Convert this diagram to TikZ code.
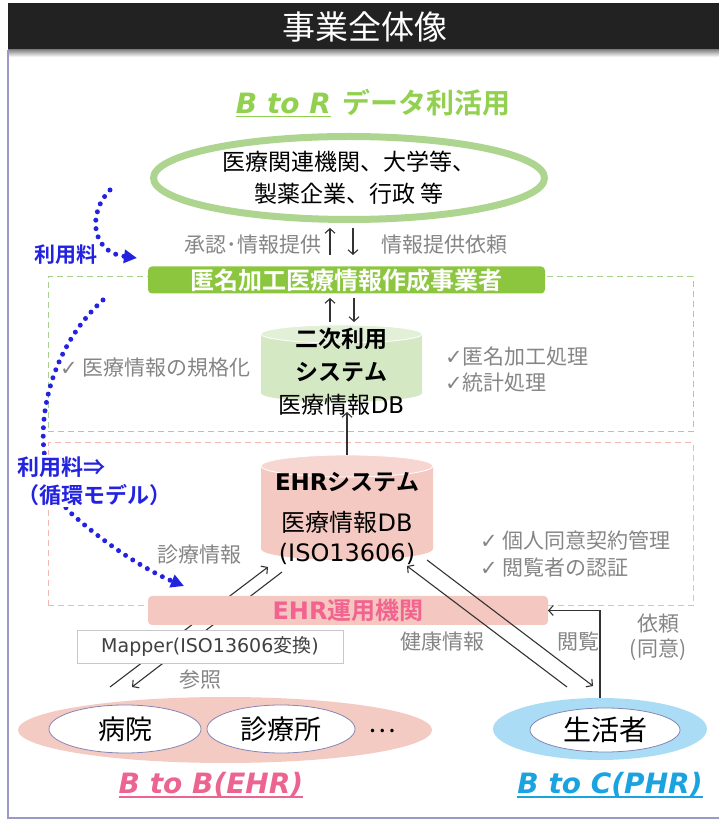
\documentclass[tikz,border=0pt]{standalone}
\usepackage{fontspec}
\setmainfont{Noto Sans CJK JP}[BoldFont={Noto Sans CJK JP Bold}]
\newfontfamily\latf{DejaVu Sans}
\newfontfamily\btofont{DejaVu Sans Bold Oblique}
\usetikzlibrary{arrows.meta,shapes.geometric}
\definecolor{titlebg}{HTML}{222222}
\definecolor{framec}{HTML}{9A9AC4}
\definecolor{gtxt}{HTML}{92D050}
\definecolor{gbar}{HTML}{8CC63F}
\definecolor{gring}{HTML}{AED58F}
\definecolor{gdashc}{HTML}{A9D18E}
\definecolor{gcylb}{HTML}{D5E8C4}
\definecolor{gcylt}{HTML}{E3F0D8}
\definecolor{pcylb}{HTML}{F4C9C2}
\definecolor{pcylt}{HTML}{F7D6D1}
\definecolor{pdashc}{HTML}{F2B8B2}
\definecolor{pbar}{HTML}{F4C7C0}
\definecolor{ptxt}{HTML}{F2638F}
\definecolor{ptxtb}{HTML}{EC6490}
\definecolor{pbig}{HTML}{F3CBC3}
\definecolor{bbig}{HTML}{AADDF5}
\definecolor{btxt}{HTML}{1AA3DE}
\definecolor{dotblue}{HTML}{2222E0}
\definecolor{graytxt}{HTML}{858585}
\definecolor{ellbd}{HTML}{8585B5}
\definecolor{mapbd}{HTML}{C8C8C8}
\definecolor{maptx}{HTML}{404040}
\newcommand\myul[1]{\setbox0\hbox{#1}\rlap{\rule[-4pt]{\wd0}{1.6pt}}\box0}
\newcommand\ckm{{\latf ✓}}
\newcommand\fsz[1]{\fontsize{#1}{#1}\selectfont}
\tikzset{
  every node/.style={inner sep=0pt, outer sep=0pt},
  graylbl/.style={text=graytxt, font=\fsz{21}},
  arr/.style={-{Straight Barb[length=4.5pt,width=10pt]}, line width=1.1pt, draw=black!80},
  dotarr/.style={draw=dotblue, line width=5pt, dash pattern=on 0pt off 8.5pt, line cap=round, -{Triangle[length=13pt,width=13pt]}},
  dashbox/.style={dash pattern=on 6pt off 4pt, line width=1pt},
  whiteell/.style={ellipse, fill=white, draw=ellbd, line width=0.8pt}
}
\begin{document}
\begin{tikzpicture}[x=1pt,y=1pt]
\useasboundingbox (0,0) rectangle (719,822);
% title bar
\fill[titlebg] (8,772) rectangle (719,819);
\shade[top color=black!45, bottom color=white] (8,772) rectangle (719,765);
\node[text=white, font=\fsz{33}] (title) at (365,795) {事業全体像};
\draw[framec, line width=1.5pt] (8,772) -- (8,4) -- (719,4);
% dashed areas
\node[draw=gdashc, dashbox, minimum width=645, minimum height=155] (gbox) at (370.5,467.5) {};
\node[draw=pdashc, dashbox, minimum width=645, minimum height=163] (pbox) at (370.5,297.5) {};
% heading
\node[text=gtxt, font=\fsz{28}] (btr) at (373,719) {{\btofont\myul{B to R}}\hspace{11pt}{\bfseries データ利活用}};
% blue dotted curves
\coordinate (f1s) at (110,632); \coordinate (f1e) at (137,564);
\coordinate (f2s) at (103,522); \coordinate (f2e) at (184,236);
\draw[dotarr] (f1s) .. controls (88,610) and (90,570) .. (f1e);
\draw[dotarr] (f2s) .. controls (35,460) and (25,350) .. (73,307) .. controls (110,274) and (150,250) .. (f2e);
% users
\node[ellipse, draw=gring, line width=7pt, fill=white, minimum width=391, minimum height=83, align=center, font=\fontsize{23}{32}\selectfont] (users) at (349,644) {医療関連機関、大学等、\\製薬企業、行政 等};
\node[graylbl, anchor=east] (apv) at (321,577) {承認･情報提供};
\node[graylbl, anchor=west] (req) at (381,577) {情報提供依頼};
% agent bar
\node[fill=gbar, rounded corners=4pt, minimum width=397, minimum height=27, text=white, font=\bfseries\fsz{24}] (agent) at (346.5,542) {匿名加工医療情報作成事業者};
\coordinate (xa) at (330,0); \coordinate (xb) at (353,0); \coordinate (xc) at (354,0);
\draw[arr, shorten <=11.5pt, shorten >=8.5pt] (agent.north -| xa) -- (users.south -| xa);
\draw[arr, shorten <=8.5pt, shorten >=11.5pt] (users.south -| xb) -- (agent.north -| xb);
% secondary-use cylinder
\fill[gcylb] (261,488) -- (261,429) arc[start angle=180,end angle=360,x radius=80.5,y radius=9] -- (422,488) -- cycle;
\filldraw[fill=gcylt, draw=white, line width=0.8pt] (341.5,488) ellipse [x radius=80.5, y radius=9];
\node[minimum width=161, minimum height=77] (db2) at (341.5,458.5) {};
\node[align=center, font=\fontsize{23}{33}\selectfont] (db2t) at (341.5,450) {\textbf{二次利用}\\\textbf{システム}\\医療情報{\latf DB}};
\draw[arr, shorten <=3pt, shorten >=4.5pt] (db2.north -| xa) -- (agent.south -| xa);
\draw[arr, shorten <=4.5pt, shorten >=3pt] (agent.south -| xc) -- (db2.north -| xc);
\node[graylbl, anchor=west] (std) at (60,454) {\ckm\ 医療情報の規格化};
\node[graylbl, anchor=west, align=left, font=\fontsize{21}{26}\selectfont] (anon) at (445,452) {\ckm 匿名加工処理\\\ckm 統計処理};
% EHR cylinder
\fill[pcylb] (261,356) -- (261,273) arc[start angle=180,end angle=360,x radius=86,y radius=11] -- (433,356) -- cycle;
\filldraw[fill=pcylt, draw=white, line width=0.8pt] (347,356) ellipse [x radius=86, y radius=11];
\node[minimum width=172, minimum height=105] (ehr) at (347,314.5) {};
\node[font=\bfseries\fsz{23}] (ehrt1) at (347,340) {{\latf EHR}システム};
\node[align=center, font=\fontsize{24}{30}\selectfont] (ehrt2) at (347,284) {医療情報{\latf DB}\\{\latf (ISO13606)}};
\coordinate (db2in) at (347,410);
\draw[arr] (ehr.north) -- (db2in);
\node[graylbl, anchor=west, align=left, font=\fontsize{21}{27}\selectfont] (consent) at (480,268.5) {\ckm\ 個人同意契約管理\\\ckm\ 閲覧者の認証};
\node[graylbl, anchor=east] (shin) at (241,267) {診療情報};
% B to B connectors (behind bar and mapper)
\coordinate (h1) at (110,135); \coordinate (e1) at (268,255);
\coordinate (e2) at (282,250); \coordinate (h2) at (132,135);
\draw[arr] (h1) -- (e1);
\draw[arr] (e2) -- (h2);
% EHR operator bar and mapper
\node[fill=pbar, rounded corners=4pt, minimum width=400, minimum height=29, text=ptxt, font=\bfseries\fsz{24}] (ehrop) at (348,211.5) {{\latf EHR}運用機関};
\node[fill=white, draw=mapbd, line width=0.8pt, minimum width=266, minimum height=33, text=maptx, font=\fsz{19}] (mapper) at (210,175.5) {{\latf Mapper(ISO13606}変換{\latf )}};
\node[graylbl] (sansho) at (200,142) {参照};
% bottom ellipses
\node[ellipse, fill=pbig, minimum width=414, minimum height=66] (b2b) at (225,92) {};
\node[whiteell, minimum width=152, minimum height=48, font=\fsz{27}] (hosp) at (125,93) {病院};
\node[whiteell, minimum width=148, minimum height=48, font=\fsz{27}] (clinic) at (281,93) {診療所};
\node[font=\fsz{26}] (more) at (382,91) {…};
\node[ellipse, fill=bbig, minimum width=214, minimum height=62] (b2c) at (600,93) {};
\node[whiteell, minimum width=150, minimum height=44, font=\fsz{28}] (person) at (605,92) {生活者};
% B to C connectors
\coordinate (p1) at (567,135); \coordinate (e3) at (407,256);
\coordinate (e4) at (427,262); \coordinate (p2) at (593,136);
\draw[arr] (p1) -- (e3);
\draw[arr] (e4) -- (p2);
\coordinate (xe) at (600,0);
\draw[arr] (b2c.north -| xe) |- (ehrop.east);
\node[graylbl] (kenko) at (442,180) {健康情報};
\node[graylbl] (etsu) at (578,180) {閲覧};
\node[graylbl, align=center, font=\fontsize{21}{25}\selectfont] (irai) at (658,184.5) {依頼\\(同意)};
% bottom labels
\node[text=ptxtb, font=\btofont\fsz{28}] (b2blbl) at (211,37) {\myul{B to B(EHR)}};
\node[text=btxt, font=\btofont\fsz{28}] (b2clbl) at (610,37) {\myul{B to C(PHR)}};
% fee labels
\node[text=dotblue, font=\bfseries\fsz{21}] (fee1) at (66,567) {利用料};
\node[text=dotblue, font=\bfseries\fontsize{22}{28}\selectfont, fill=white, align=left, anchor=west, inner sep=2pt] (fee2) at (15,341) {利用料⇒\\（循環モデル）};
\end{tikzpicture}
\end{document}
